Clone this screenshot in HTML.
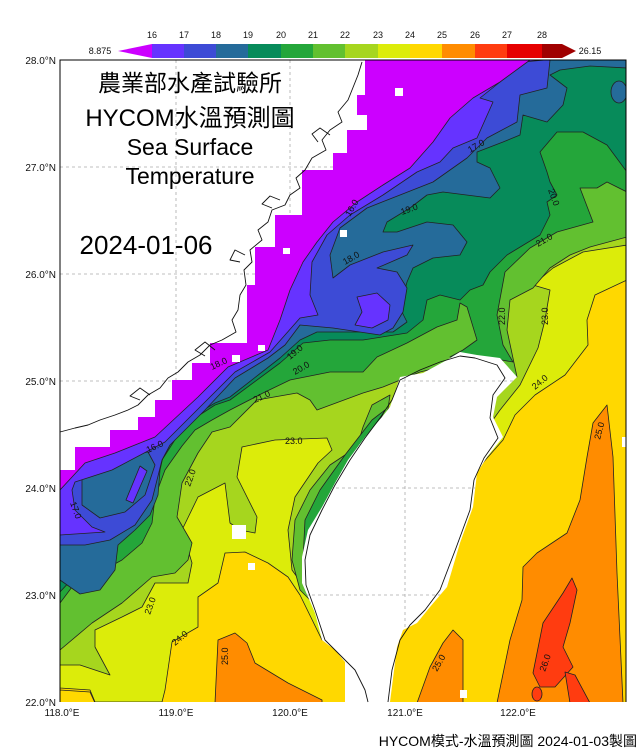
<!DOCTYPE html>
<html><head><meta charset="utf-8">
<style>
html,body{margin:0;padding:0;background:#fff;}
svg{display:block;}
.t{font-family:"Liberation Sans","Noto Sans CJK TC",sans-serif;}
</style></head>
<body>
<svg width="643" height="756" viewBox="0 0 643 756" xmlns="http://www.w3.org/2000/svg">
<defs>
<clipPath id="plot"><rect x="60" y="60" width="566" height="642"/></clipPath>
<clipPath id="landclip">
<polygon id="china" points="60,60 365,60 365,95 357,95 357,115 367,115 367,130 347,130 347,153 333,153 333,170 302,170 302,215 275,215 275,247 255,247 255,285 247,285 247,343 210,343 210,363 192,363 192,380 172,380 172,400 155,400 155,417 138,417 138,430 110,430 110,447 75,447 75,470 60,470"/>
<polygon points="447,360 460,352 477,355 500,358 517,377 497,397 493,417 503,437 487,457 477,473 473,507 460,543 447,587 430,607 417,623 403,630 397,647 390,702 345,702 345,662 335,650 322,640 315,613 302,583 302,557 308,530 322,507 335,483 348,460 365,437 382,417 390,407 400,377 423,373"/>
</clipPath>
</defs>
<g clip-path="url(#plot)" stroke="#222" stroke-width="0.8" stroke-linejoin="round">
<rect x="60" y="60" width="566" height="642" fill="#ffd800" stroke="none"/>
<polygon fill="#dcec0a" points="60,60 627,60 627,280 595,295 587,320 588,345 565,375 535,395 515,415 503,440 450,500 380,580 322,640 300,595 288,577 268,563 245,552 225,553 218,583 198,597 198,627 172,642 165,690 162,702 95,702 90,690 60,688"/>
<polygon fill="#a6d61e" points="60,60 627,60 627,245 583,252 553,268 533,285 550,290 545,320 538,348 520,385 500,410 450,480 400,540 310,595 292,570 288,530 295,497 318,463 332,450 327,438 275,440 242,447 237,477 257,517 255,533 240,530 230,523 225,483 198,497 182,530 192,563 188,583 155,583 142,607 122,617 95,630 95,647 110,675 80,665 60,665"/>
<polygon fill="#62c030" points="60,60 627,60 627,237 590,247 570,255 550,268 533,288 510,300 507,330 517,377 470,360 420,372 383,387 363,393 317,410 310,400 297,393 257,400 230,427 212,432 198,453 182,483 177,517 192,543 188,560 175,573 152,577 122,603 92,623 60,650"/>
<polygon fill="#62c030" points="357,447 363,427 372,405 390,395 385,430 350,470 320,520 306,560 310,600 300,590 292,560 295,520 310,490 330,465"/>
<polygon fill="#24a63a" points="372,420 385,410 370,440 340,480 318,520 308,560 303,560 305,520 320,490 345,455"/>
<polygon fill="#24a63a" points="60,60 627,60 627,192 607,182 597,188 580,188 593,222 557,232 530,248 505,272 497,315 503,345 513,362 490,358 450,357 463,350 477,340 467,307 460,303 457,320 437,327 407,343 377,357 363,372 330,372 290,380 263,393 230,410 212,420 195,430 182,446 165,470 155,497 152,523 142,543 122,560 98,573 75,583 60,603"/>
<polygon fill="#078b5a" points="60,60 627,60 627,172 607,145 583,132 557,132 540,152 547,172 550,182 557,195 547,202 550,215 540,235 507,255 490,272 483,285 470,290 460,300 440,295 427,300 423,320 407,333 363,340 330,340 303,343 280,363 230,400 215,405 195,418 178,435 162,460 150,490 143,515 130,533 110,550 85,565 60,592"/>
<polygon fill="#256b9a" points="60,60 627,60 627,68 590,66 560,70 550,75 567,88 563,105 547,122 523,115 520,135 503,142 477,152 477,162 490,168 500,188 490,198 443,192 427,195 410,208 387,222 383,232 397,232 427,222 453,225 467,242 460,255 433,258 413,268 407,282 400,308 407,322 393,332 350,332 317,332 300,340 280,358 230,397 215,403 195,415 178,430 165,448 160,470 158,495 150,515 135,530 118,545 115,570 100,590 80,594 60,580"/>
<ellipse cx="619" cy="92" rx="8" ry="11" fill="#256b9a"/>
<polygon fill="#3d4bd6" points="60,60 550,60 547,88 520,95 517,122 487,138 467,158 433,182 400,195 367,208 340,228 330,255 333,278 350,265 383,252 413,245 407,255 377,268 397,272 407,288 403,312 393,328 380,335 333,328 300,325 285,345 268,358 235,378 205,410 170,445 162,460 152,500 135,525 110,540 85,545 60,545"/>
<polygon fill="#256b9a" points="82,470 110,458 148,452 155,465 145,495 125,512 100,518 82,505"/>
<polygon fill="#6633ff" points="60,60 545,60 523,62 500,82 480,98 493,102 477,138 453,148 440,162 417,172 383,195 350,215 327,235 312,262 310,295 318,315 300,318 285,335 270,352 235,372 202,405 165,442 112,470 75,482 72,490 75,510 92,527 105,532 60,535"/>
<polygon fill="#6633ff" points="357,297 377,293 390,305 388,320 372,328 355,325 362,312"/>
<polygon fill="#6633ff" points="140,466 147,471 133,503 126,500"/>
<polygon fill="#cc00ff" points="60,60 530,60 500,82 473,98 450,118 433,142 410,168 383,185 357,202 333,222 317,242 303,262 290,290 280,320 268,350 228,367 198,397 155,437 115,453 85,463 60,490"/>
<polygon fill="#ff8c00" points="218,640 235,633 247,643 255,663 288,683 322,700 322,703 215,703"/>
<polygon fill="#ff8c00" points="453,630 463,640 463,703 417,703 430,667 443,643"/>
<polygon fill="#ff8c00" points="607,405 613,457 617,573 623,703 497,703 510,640 522,600 523,567 537,553 567,533 580,500 587,457 593,423"/>
<polygon fill="#ff3c10" points="572,578 577,590 570,623 563,647 573,667 555,687 540,687 533,673 543,623 563,593"/>
<polygon fill="#ff3c10" points="565,672 575,675 590,703 570,703"/>
<ellipse cx="537" cy="694" rx="5" ry="7" fill="#ff3c10"/>
<polygon fill="#ffd800" points="60,690 90,692 95,703 60,703"/>
</g>
<g fill="#fff">
<use href="#china"/>
<polygon points="447,360 460,352 477,355 500,358 517,377 497,397 493,417 503,437 487,457 477,473 473,507 460,543 447,587 430,607 417,623 403,630 397,647 390,702 345,702 345,662 335,650 322,640 315,613 302,583 302,557 308,530 322,507 335,483 348,460 365,437 382,417 390,407 400,377 423,373"/>
<rect x="305" y="62" width="22" height="18"/><rect x="395" y="88" width="8" height="8"/>
<rect x="340" y="230" width="7" height="7"/><rect x="283" y="248" width="7" height="6"/>
<rect x="232" y="355" width="8" height="7"/><rect x="258" y="345" width="7" height="6"/>
<rect x="232" y="525" width="14" height="14"/><rect x="248" y="563" width="7" height="7"/>
<rect x="460" y="690" width="7" height="8"/><rect x="622" y="437" width="4" height="10"/>
</g>
<g clip-path="url(#landclip)" stroke="#aaa" stroke-width="0.8" stroke-dasharray="3,3">
<line x1="176" y1="60" x2="176" y2="702"/><line x1="290" y1="60" x2="290" y2="702"/>
<line x1="405" y1="60" x2="405" y2="702"/><line x1="518" y1="60" x2="518" y2="702"/>
<line x1="60" y1="167" x2="626" y2="167"/><line x1="60" y1="274" x2="626" y2="274"/>
<line x1="60" y1="381" x2="626" y2="381"/><line x1="60" y1="488" x2="626" y2="488"/>
<line x1="60" y1="595" x2="626" y2="595"/>
</g>
<g fill="none" stroke="#111" stroke-width="0.9" stroke-linejoin="round">
<polyline points="362,62 358,75 352,90 348,100 338,112 342,122 330,130 322,140 326,150 312,158 305,170 296,178 300,188 290,195 285,205 272,210 268,222 258,230 262,240 250,250 252,262 244,270 246,285 240,295 238,310 232,320 236,332 222,340 210,345 200,355 188,362 178,372 168,378 160,388 148,395 138,405 128,410 115,415 100,420 88,425 75,428 60,432"/>
<polyline points="330,135 320,128 312,134 318,142"/>
<polyline points="280,200 270,196 262,204 272,208"/>
<polyline points="245,255 235,250 230,260 240,262"/>
<polyline points="215,350 205,342 195,350 205,356"/>
<polyline points="150,395 140,388 130,396 140,400"/>
<polyline points="460,356 475,358 497,365 505,378 493,395 490,418 498,438 484,458 474,480 470,510 456,548 440,590 425,610 410,625 400,640 392,670 388,702"/>
<polyline points="460,356 440,362 420,370 400,380 392,400 380,418 365,438 350,460 335,485 322,510 310,535 305,560 306,585 315,610 325,640 340,655 355,670 365,690 368,702"/>
</g>
<path d="M60,702 V60 H626 V702" fill="none" stroke="#000" stroke-width="1"/>
<g class="t" font-size="10" fill="#111">
<text x="56" y="64" text-anchor="end">28.0°N</text>
<text x="56" y="171" text-anchor="end">27.0°N</text>
<text x="56" y="278" text-anchor="end">26.0°N</text>
<text x="56" y="385" text-anchor="end">25.0°N</text>
<text x="56" y="492" text-anchor="end">24.0°N</text>
<text x="56" y="599" text-anchor="end">23.0°N</text>
<text x="56" y="706" text-anchor="end">22.0°N</text>
<text x="62" y="716" text-anchor="middle">118.0°E</text>
<text x="176" y="716" text-anchor="middle">119.0°E</text>
<text x="290" y="716" text-anchor="middle">120.0°E</text>
<text x="405" y="716" text-anchor="middle">121.0°E</text>
<text x="518" y="716" text-anchor="middle">122.0°E</text>
</g>
<g class="t" font-size="9" fill="#111">
<text x="470" y="153" transform="rotate(-30 470 153)">17.0</text>
<text x="402" y="215" transform="rotate(-20 402 215)">19.0</text>
<text x="345" y="265" transform="rotate(-30 345 265)">18.0</text>
<text x="350" y="217" transform="rotate(-60 350 217)">16.0</text>
<text x="548" y="190" transform="rotate(70 548 190)">20.0</text>
<text x="538" y="247" transform="rotate(-30 538 247)">21.0</text>
<text x="505" y="325" transform="rotate(-90 505 325)">22.0</text>
<text x="548" y="325" transform="rotate(-90 548 325)">23.0</text>
<text x="535" y="390" transform="rotate(-40 535 390)">24.0</text>
<text x="600" y="440" transform="rotate(-75 600 440)">25.0</text>
<text x="290" y="360" transform="rotate(-40 290 360)">19.0</text>
<text x="295" y="375" transform="rotate(-30 295 375)">20.0</text>
<text x="255" y="403" transform="rotate(-25 255 403)">21.0</text>
<text x="212" y="370" transform="rotate(-25 212 370)">18.0</text>
<text x="285" y="444">23.0</text>
<text x="190" y="487" transform="rotate(-70 190 487)">22.0</text>
<text x="148" y="453" transform="rotate(-25 148 453)">16.0</text>
<text x="70" y="503" transform="rotate(70 70 503)">17.0</text>
<text x="150" y="615" transform="rotate(-70 150 615)">23.0</text>
<text x="175" y="646" transform="rotate(-40 175 646)">24.0</text>
<text x="228" y="665" transform="rotate(-90 228 665)">25.0</text>
<text x="437" y="672" transform="rotate(-60 437 672)">25.0</text>
<text x="545" y="672" transform="rotate(-70 545 672)">26.0</text>
</g>
<g stroke="none">
<polygon points="118,51 152,44 152,58" fill="#cc00ff"/>
<rect x="152" y="44" width="33" height="14" fill="#6633ff"/>
<rect x="184" y="44" width="33" height="14" fill="#3d4bd6"/>
<rect x="216" y="44" width="33" height="14" fill="#256b9a"/>
<rect x="248" y="44" width="33" height="14" fill="#078b5a"/>
<rect x="281" y="44" width="33" height="14" fill="#24a63a"/>
<rect x="313" y="44" width="33" height="14" fill="#62c030"/>
<rect x="345" y="44" width="33" height="14" fill="#a6d61e"/>
<rect x="378" y="44" width="33" height="14" fill="#dcec0a"/>
<rect x="410" y="44" width="33" height="14" fill="#ffd800"/>
<rect x="442" y="44" width="33" height="14" fill="#ff8c00"/>
<rect x="475" y="44" width="33" height="14" fill="#ff3c10"/>
<rect x="507" y="44" width="35" height="14" fill="#e60000"/>
<rect x="542" y="44" width="20" height="14" fill="#a00000"/>
<polygon points="562,44 576,51 562,58" fill="#a00000"/>
</g>
<g class="t" font-size="9" fill="#111" text-anchor="middle">
<text x="152" y="38">16</text><text x="184" y="38">17</text><text x="216" y="38">18</text>
<text x="248" y="38">19</text><text x="281" y="38">20</text><text x="313" y="38">21</text>
<text x="345" y="38">22</text><text x="378" y="38">23</text><text x="410" y="38">24</text>
<text x="442" y="38">25</text><text x="475" y="38">26</text><text x="507" y="38">27</text>
<text x="542" y="38">28</text>
<text x="100" y="54">8.875</text><text x="590" y="54">26.15</text>
</g>
<g font-family="'Liberation Sans','Noto Sans CJK TC',sans-serif" fill="#000" text-anchor="middle">
<text x="190" y="91" font-size="23">農業部水產試驗所</text>
<text x="190" y="126" font-size="24">HYCOM水溫預測圖</text>
<text x="190" y="155" font-size="23">Sea Surface</text>
<text x="190" y="184" font-size="23">Temperature</text>
<text x="146" y="254" font-size="26">2024-01-06</text>
</g>
<text x="637" y="746" text-anchor="end" font-family="'Liberation Sans','Noto Sans CJK TC',sans-serif" font-size="14" fill="#000">HYCOM模式-水溫預測圖 2024-01-03製圖</text>
</svg>
</body></html>
